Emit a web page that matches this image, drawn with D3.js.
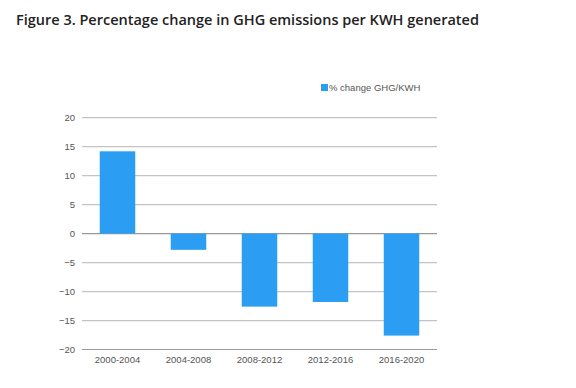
<!DOCTYPE html>
<head>
  <meta charset="utf-8">
  <style>
    body { margin: 0; padding: 0; background: #fff; }
    .title { font-family: 'Open Sans', sans-serif; font-weight: 600; font-size: 14.5px; fill: #222; }
    .tick text { font-family: Arial, 'Liberation Sans', sans-serif; font-size: 9.5px; fill: #555; }
    .legend text { font-family: Arial, 'Liberation Sans', sans-serif; font-size: 9.5px; fill: #555; }
  </style>
</head>
<body>
  <div id="vis"></div>
  <script src="https://cdn.jsdelivr.net/npm/d3@7"></script>
  <script>
    var periods = ['2000-2004', '2004-2008', '2008-2012', '2012-2016', '2016-2020'],
        changes = [14.2, -2.8, -12.6, -11.8, -17.6],
        yTicks = [20, 15, 10, 5, 0, -5, -10, -15, -20];

    var width = 576, height = 388;

    var svg = d3.select('#vis').append('svg')
      .attr('width', width)
      .attr('height', height);

    svg.append('text')
      .attr('class', 'title')
      .attr('x', 16)
      .attr('y', 25)
      .text('Figure 3. Percentage change in GHG emissions per KWH generated');

    var x = d3.scaleBand()
      .domain(periods)
      .range([82, 437])
      .paddingInner(0.5)
      .paddingOuter(0.25);

    var y = d3.scaleLinear()
      .domain([-20, 20])
      .range([349.5, 117.7]);

    // gridlines
    svg.append('g')
      .selectAll('line')
      .data(yTicks)
      .enter().append('line')
        .attr('x1', 82)
        .attr('x2', 437)
        .attr('y1', function(d) { return y(d); })
        .attr('y2', function(d) { return y(d); })
        .attr('stroke', function(d) { return d == 0 || d == -20 ? '#999' : '#c4c4c4'; })
        .attr('stroke-width', 1.2);

    var yAxis = svg.append('g')
      .attr('transform', 'translate(75,0)')
      .call(d3.axisLeft(y).tickValues(yTicks).tickSize(0).tickPadding(0));
    yAxis.select('.domain').remove();

    svg.append('g')
      .selectAll('rect')
      .data(changes)
      .enter().append('rect')
        .attr('x', function(d, i) { return x(periods[i]); })
        .attr('width', x.bandwidth())
        .attr('y', function(d) { return y(Math.max(0, d)); })
        .attr('height', function(d) { return Math.abs(y(d) - y(0)); })
        .attr('fill', '#2b9ef3');

    var xAxis = svg.append('g')
      .attr('transform', 'translate(0,' + 352 + ')')
      .call(d3.axisBottom(x).tickSize(0).tickPadding(4));
    xAxis.select('.domain').remove();

    var legend = svg.append('g').attr('class', 'legend');
    legend.append('rect')
      .attr('x', 321).attr('y', 84)
      .attr('width', 7).attr('height', 7)
      .attr('fill', '#2b9ef3');
    legend.append('text')
      .attr('x', 329).attr('y', 91)
      .text('% change GHG/KWH');
  </script>
</body>
